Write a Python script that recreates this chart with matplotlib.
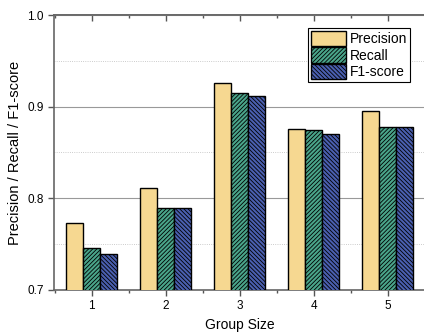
import numpy as np
import matplotlib.pyplot as plt
from matplotlib.ticker import MultipleLocator

plt.rcParams['font.family'] = ['Liberation Sans', 'DejaVu Sans']
plt.rcParams['hatch.linewidth'] = 0.6

groups = [1, 2, 3, 4, 5]
precision = [0.773, 0.811, 0.926, 0.876, 0.895]
recall = [0.746, 0.789, 0.915, 0.875, 0.878]
f1 = [0.739, 0.789, 0.912, 0.870, 0.878]

fig = plt.figure(figsize=(4.24, 3.35), dpi=100)
ax = fig.add_axes([54 / 424, 1 - 290 / 335, (426 - 54) / 424, 275 / 335])

x = np.array(groups, float)
w = 0.23
ax.bar(x - w, precision, w, color='#F6D891', edgecolor='black', linewidth=1, label='Precision', zorder=3)
ax.bar(x, recall, w, color='#4aa58a', edgecolor='black', linewidth=1, hatch='////////', label='Recall', zorder=3)
ax.bar(x + w, f1, w, color='#4a5fb0', edgecolor='black', linewidth=1, hatch='\\\\\\\\\\\\\\\\', label='F1-score', zorder=3)

ax.set_xlim(0.49, 5.52)
ax.set_ylim(0.7, 1.0)
ax.set_xticks(groups)
ax.xaxis.set_minor_locator(MultipleLocator(0.5))
ax.yaxis.set_major_locator(MultipleLocator(0.1))
ax.yaxis.set_minor_locator(MultipleLocator(0.05))

ax.grid(which='major', axis='y', color='#999999', linewidth=0.8, linestyle='-', zorder=0)
ax.grid(which='minor', axis='y', color='#bbbbbb', linewidth=0.6, linestyle=':', zorder=0)

for s in ['left', 'bottom', 'top', 'right']:
    ax.spines[s].set_color('#666666')
    ax.spines[s].set_linewidth(1.2)

ax.tick_params(axis='both', which='major', labelsize=8.5, length=4, width=1, color='#555555')
ax.tick_params(axis='both', which='minor', length=2.5, width=1, color='#555555')
ax.tick_params(axis='x', which='both', top=False, bottom=True, direction='out')
ax.tick_params(axis='y', which='minor', length=0)

# top ticks point inward
top = ax.secondary_xaxis('top')
top.set_xticks(groups)
top.xaxis.set_minor_locator(MultipleLocator(0.5))
top.tick_params(axis='x', which='both', direction='in', labeltop=False, width=1, color='#555555')
top.tick_params(axis='x', which='major', length=4)
top.tick_params(axis='x', which='minor', length=2.5)
top.spines['top'].set_color('#666666')
top.spines['top'].set_linewidth(1.2)

ax.set_xlabel('Group Size', fontsize=10)
ax.set_ylabel('Precision / Recall / F1-score', fontsize=10.5)

leg = ax.legend(loc='upper left', bbox_to_anchor=(308 / 424, 1 - 28 / 335), bbox_transform=fig.transFigure,
                fontsize=10, frameon=True, fancybox=False, framealpha=1, edgecolor='black',
                handlelength=2.5, handleheight=1.3, handletextpad=0.3, labelspacing=0.1,
                borderpad=0.2, borderaxespad=0)
leg.get_frame().set_linewidth(0.8)

fig.savefig('out.png', dpi=100)
